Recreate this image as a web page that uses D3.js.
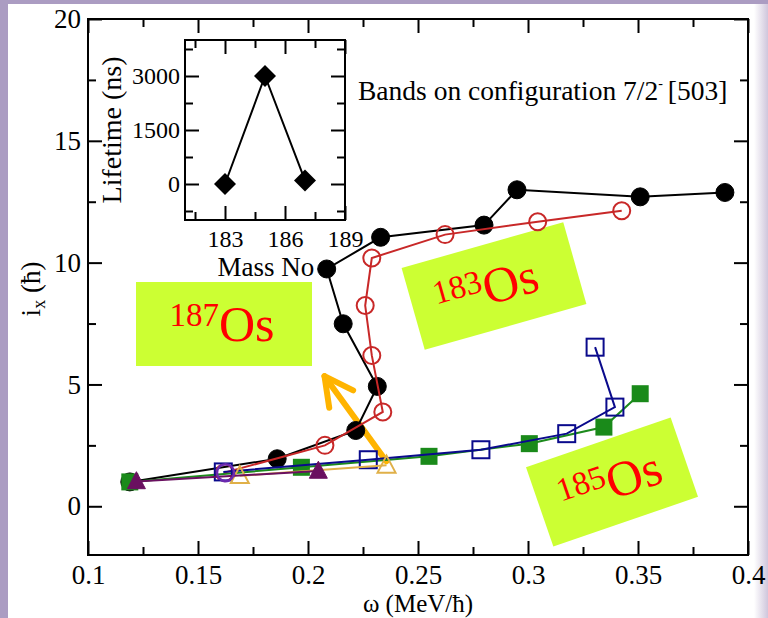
<!DOCTYPE html>
<html><head><meta charset="utf-8">
<script src="https://cdn.jsdelivr.net/npm/d3@7"></script>
<style>
body{margin:0;background:#fff;}
svg{display:block;}
</style>
</head><body>
<svg id="c" width="768" height="618"></svg>
<script>
// ---------- data ----------
const xTicks = [0.1, 0.15, 0.2, 0.25, 0.3, 0.35, 0.4];
const xMinor = [0.125, 0.175, 0.225, 0.275, 0.325, 0.375];
const yTicks = [0, 5, 10, 15, 20];
const yMinor = [2.5, 7.5, 12.5, 17.5];

const blackW  = [0.119, 0.186, 0.2217, 0.2315, 0.216, 0.2085, 0.233, 0.280, 0.295, 0.351, 0.3895];
const blackI  = [1.0, 1.95, 3.11, 4.92, 7.49, 9.74, 11.04, 11.54, 12.99, 12.70, 12.88];
const redW    = [0.162, 0.2077, 0.234, 0.229, 0.226, 0.229, 0.2623, 0.3044, 0.3426];
const redI    = [1.38, 2.50, 3.87, 6.19, 8.24, 10.19, 11.15, 11.68, 12.13];
const greenW  = [0.119, 0.197, 0.255, 0.3006, 0.3345, 0.351];
const greenI  = [1.0, 1.6, 2.05, 2.57, 3.25, 4.62];
const blueW   = [0.1615, 0.2274, 0.2786, 0.3176, 0.3395, 0.3305];
const blueI   = [1.41, 1.91, 2.32, 2.98, 4.07, 6.53];
const orangeW = [0.169, 0.2357];
const orangeI = [1.25, 1.68];
const maroonW = [0.122, 0.2047];
const maroonI = [1.02, 1.45];
const violetW = [0.1625];
const violetI = [1.38];

// inset
const massNo   = [183, 185, 187];
const lifetime = [0, 3000, 100];
const insetXTicks = [183, 186, 189];
const insetXMinor = [181.5, 184.5, 187.5];
const insetYTicks = [0, 1500, 3000];
const insetYMinor = [-750, 750, 2250, 3750];

// ---------- layout ----------
const FONT = "'Liberation Serif', 'Times New Roman', serif";
const svg = d3.select("#c");
const W = 768, H = 618;
const defs = svg.append("defs");
const g1 = defs.append("linearGradient").attr("id","rg").attr("x1","0").attr("x2","1").attr("y1","0").attr("y2","0");
g1.append("stop").attr("offset","0").attr("stop-color","#ffffff");
g1.append("stop").attr("offset","1").attr("stop-color","#cfc6dc");

svg.append("rect").attr("width",W).attr("height",H).attr("fill","#ab9cc2");
svg.append("rect").attr("x",8).attr("y",4).attr("width",W-8).attr("height",H-4).attr("fill","#ffffff");
svg.append("rect").attr("x",754).attr("y",4).attr("width",14).attr("height",H-4).attr("fill","url(#rg)");

const L = 88, R = 748, T = 19, B = 555;
const x = d3.scaleLinear().domain([0.1, 0.4]).range([L, R]);
const y = d3.scaleLinear().domain([-2, 20]).range([B, T]);

function axisSet(g, axis){ g.call(axis); g.select(".domain").remove(); g.selectAll("line").attr("stroke","#000").attr("stroke-width",2); }

const fmtX = d => d3.format("")(+d.toFixed(2));
const tickFont = 27;
// bottom
let gb = svg.append("g").attr("transform",`translate(0,${B})`);
axisSet(gb, d3.axisBottom(x).tickValues(xTicks).tickSizeInner(-14).tickSizeOuter(0).tickPadding(10).tickFormat(fmtX));
gb.selectAll("text").attr("font-size",tickFont).attr("fill","#000");
axisSet(svg.append("g").attr("transform",`translate(0,${B})`), d3.axisBottom(x).tickValues(xMinor).tickSizeInner(-8).tickSizeOuter(0).tickFormat(""));
// top
axisSet(svg.append("g").attr("transform",`translate(0,${T})`), d3.axisTop(x).tickValues(xTicks).tickSizeInner(-14).tickSizeOuter(0).tickFormat(""));
axisSet(svg.append("g").attr("transform",`translate(0,${T})`), d3.axisTop(x).tickValues(xMinor).tickSizeInner(-8).tickSizeOuter(0).tickFormat(""));
// left
let gl = svg.append("g").attr("transform",`translate(${L},0)`);
axisSet(gl, d3.axisLeft(y).tickValues(yTicks).tickSizeInner(-14).tickSizeOuter(0).tickPadding(7));
gl.selectAll("text").attr("font-size",tickFont).attr("fill","#000");
axisSet(svg.append("g").attr("transform",`translate(${L},0)`), d3.axisLeft(y).tickValues(yMinor).tickSizeInner(-8).tickSizeOuter(0).tickFormat(""));
// right
axisSet(svg.append("g").attr("transform",`translate(${R},0)`), d3.axisRight(y).tickValues(yTicks).tickSizeInner(-14).tickSizeOuter(0).tickFormat(""));
axisSet(svg.append("g").attr("transform",`translate(${R},0)`), d3.axisRight(y).tickValues(yMinor).tickSizeInner(-8).tickSizeOuter(0).tickFormat(""));
// frame
svg.append("rect").attr("x",L).attr("y",T).attr("width",R-L).attr("height",B-T).attr("fill","none").attr("stroke","#000").attr("stroke-width",2);

// axis titles
svg.append("text").attr("x",(L+R)/2).attr("y",612).attr("text-anchor","middle").attr("font-size",25).text("ω (MeV/ħ)");
const yt = svg.append("text").attr("transform","translate(40,289) rotate(-90)").attr("text-anchor","middle").attr("font-size",27);
yt.append("tspan").text("i");
yt.append("tspan").attr("font-size",18).attr("dy",5).text("x");
yt.append("tspan").attr("dy",-5).text(" (ħ)");

// ---------- annotations: label boxes ----------
const lime = "#ccff33";
function labelBox(cx, cy, w, h, ang, num, tdx){
  const g = svg.append("g").attr("transform",`translate(${cx},${cy}) rotate(${ang})`);
  g.append("rect").attr("x",-w/2).attr("y",-h/2).attr("width",w).attr("height",h).attr("fill",lime);
  const t = g.append("text").attr("x",tdx).attr("y",17).attr("text-anchor","middle").attr("fill","#ff0000");
  t.append("tspan").attr("font-size",33).attr("dy",-15).text(num);
  t.append("tspan").attr("font-size",50).attr("dy",15).text("Os");
}
labelBox(224, 324, 176, 84, 0, "187", -2);
labelBox(494, 286, 168, 85, -15.8, "183", -8);
labelBox(612, 482, 153, 84, -19, "185", -2);

// orange arrow (data coords)
const arrowTail = [0.2356, 1.85], arrowTip = [0.2075, 5.34];
{
  const x0 = x(arrowTail[0]), y0 = y(arrowTail[1]), x1 = x(arrowTip[0]), y1 = y(arrowTip[1]);
  const a = Math.atan2(y1-y0, x1-x0), len = 32, sp = 0.48;
  const ag = svg.append("g").attr("stroke","#ffb400").attr("stroke-width",6).attr("stroke-linecap","round").attr("fill","none");
  ag.append("line").attr("x1",x0).attr("y1",y0).attr("x2",x1).attr("y2",y1);
  ag.append("path").attr("stroke-linejoin","round").attr("d",
    `M${x1-len*Math.cos(a-sp)},${y1-len*Math.sin(a-sp)} L${x1},${y1} L${x1-len*Math.cos(a+sp)},${y1-len*Math.sin(a+sp)}`);
}

// ---------- series ----------
const line = d3.line().x(d=>x(d[0])).y(d=>y(d[1]));
function zip(a,b){ return a.map((v,i)=>[v,b[i]]); }
function drawLine(pts, col){ svg.append("path").datum(pts).attr("d",line).attr("fill","none").attr("stroke",col).attr("stroke-width",2); }
function circles(pts, r, fill, stroke, sw){
  svg.append("g").selectAll("circle").data(pts).join("circle")
    .attr("cx",d=>x(d[0])).attr("cy",d=>y(d[1])).attr("r",r)
    .attr("fill",fill).attr("stroke",stroke).attr("stroke-width",sw);
}
function squares(pts, s, fill, stroke, sw){
  svg.append("g").selectAll("rect").data(pts).join("rect")
    .attr("x",d=>x(d[0])-s/2).attr("y",d=>y(d[1])-s/2).attr("width",s).attr("height",s)
    .attr("fill",fill).attr("stroke",stroke).attr("stroke-width",sw);
}
function triangles(pts, s, fill, stroke, sw){
  const h = s*0.9;
  svg.append("g").selectAll("path").data(pts).join("path")
    .attr("d",d=>{const cx=x(d[0]), cy=y(d[1]); return `M${cx},${cy-h*0.6}L${cx+s/2},${cy+h*0.45}L${cx-s/2},${cy+h*0.45}Z`;})
    .attr("fill",fill).attr("stroke",stroke).attr("stroke-width",sw);
}

const blk = zip(blackW, blackI), red = zip(redW, redI), grn = zip(greenW, greenI),
      blu = zip(blueW, blueI), org = zip(orangeW, orangeI), mar = zip(maroonW, maroonI), vio = zip(violetW, violetI);

drawLine(blk, "#000");
circles(blk, 9, "#000", "#000", 1);
drawLine(grn, "#1c8a1c");
squares(grn, 17, "#1a8a1a", "none", 0);
drawLine(red, "#c82828");
circles(red, 8.5, "none", "#c82828", 2);
drawLine(blu, "#0a0a8c");
squares(blu, 17, "none", "#0a0a8c", 2);
drawLine(org, "#e0b048");
triangles(org, 18, "none", "#e0b048", 2);
drawLine(mar, "#6a1060");
triangles(mar, 18, "#6a1060", "#6a1060", 1);
circles(vio, 8.5, "none", "#6a2ab0", 2.5);

// ---------- inset ----------
const iL=185, iR=345, iT=40, iB=220;
const xi = d3.scaleLinear().domain([181, 189]).range([iL, iR]);
const yi = d3.scaleLinear().domain([-1000, 4000]).range([iB, iT]);
svg.append("rect").attr("x",iL).attr("y",iT).attr("width",iR-iL).attr("height",iB-iT).attr("fill","#fff");
let ib = svg.append("g").attr("transform",`translate(0,${iB})`);
axisSet(ib, d3.axisBottom(xi).tickValues(insetXTicks).tickSizeInner(-14).tickSizeOuter(0).tickPadding(10).tickFormat(d3.format("d")));
ib.selectAll("text").attr("font-size",24).attr("fill","#000");
axisSet(svg.append("g").attr("transform",`translate(0,${iB})`), d3.axisBottom(xi).tickValues(insetXMinor).tickSizeInner(-8).tickSizeOuter(0).tickFormat(""));
axisSet(svg.append("g").attr("transform",`translate(0,${iT})`), d3.axisTop(xi).tickValues(insetXTicks).tickSizeInner(-14).tickSizeOuter(0).tickFormat(""));
axisSet(svg.append("g").attr("transform",`translate(0,${iT})`), d3.axisTop(xi).tickValues(insetXMinor).tickSizeInner(-8).tickSizeOuter(0).tickFormat(""));
let il = svg.append("g").attr("transform",`translate(${iL},0)`);
axisSet(il, d3.axisLeft(yi).tickValues(insetYTicks).tickSizeInner(-14).tickSizeOuter(0).tickPadding(5).tickFormat(d3.format("d")));
il.selectAll("text").attr("font-size",24).attr("fill","#000");
axisSet(svg.append("g").attr("transform",`translate(${iL},0)`), d3.axisLeft(yi).tickValues(insetYMinor).tickSizeInner(-8).tickSizeOuter(0).tickFormat(""));
axisSet(svg.append("g").attr("transform",`translate(${iR},0)`), d3.axisRight(yi).tickValues(insetYTicks).tickSizeInner(-14).tickSizeOuter(0).tickFormat(""));
axisSet(svg.append("g").attr("transform",`translate(${iR},0)`), d3.axisRight(yi).tickValues(insetYMinor).tickSizeInner(-8).tickSizeOuter(0).tickFormat(""));
svg.append("rect").attr("x",iL).attr("y",iT).attr("width",iR-iL).attr("height",iB-iT).attr("fill","none").attr("stroke","#000").attr("stroke-width",2);
svg.append("text").attr("x",266).attr("y",276).attr("text-anchor","middle").attr("font-size",27).text("Mass No");
svg.append("text").attr("transform","translate(121,130) rotate(-90)").attr("text-anchor","middle").attr("font-size",28).text("Lifetime (ns)");
const ipts = zip(massNo, lifetime);
svg.append("path").datum(ipts).attr("d",d3.line().x(d=>xi(d[0])).y(d=>yi(d[1]))).attr("fill","none").attr("stroke","#000").attr("stroke-width",2);
svg.append("g").selectAll("path").data(ipts).join("path")
  .attr("d",d=>{const cx=xi(d[0]), cy=yi(d[1]), r=11; return `M${cx},${cy-r}L${cx+r},${cy}L${cx},${cy+r}L${cx-r},${cy}Z`;})
  .attr("fill","#000");

// configuration text
const ct = svg.append("text").attr("x",358).attr("y",100).attr("font-size",27.5);
ct.append("tspan").text("Bands on configuration 7/2");
ct.append("tspan").attr("font-size",14).attr("dy",-12).text("-");
ct.append("tspan").attr("dy",12).attr("dx",5).text("[503]");

// fonts on every text
svg.selectAll("text").style("font-family", FONT);
svg.selectAll("g").attr("font-family", null);
</script>
</body></html>
